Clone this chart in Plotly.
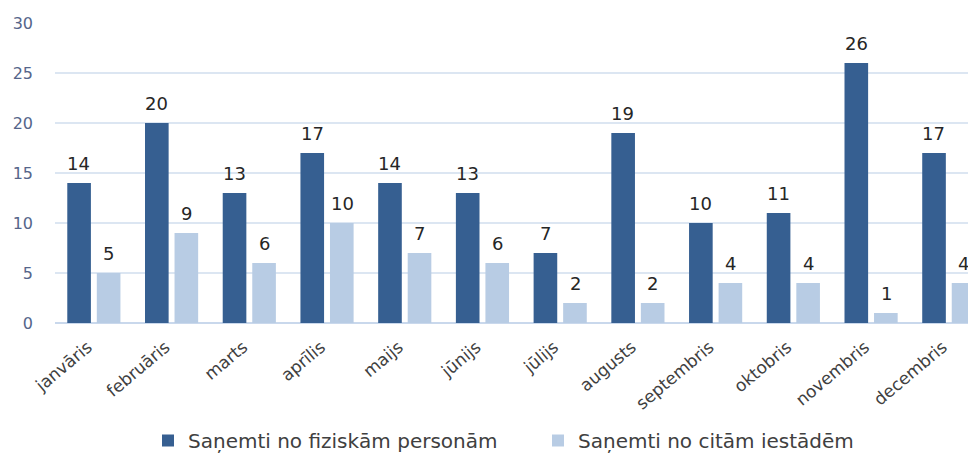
import plotly.graph_objects as go

months = ["janvāris", "februāris", "marts", "aprīlis", "maijs", "jūnijs",
          "jūlijs", "augusts", "septembris", "oktobris", "novembris", "decembris"]
fiziskam = [14, 20, 13, 17, 14, 13, 7, 19, 10, 11, 26, 17]
citam = [5, 9, 6, 10, 7, 6, 2, 2, 4, 4, 1, 4]
series_names = ["Saņemti no fiziskām personām", "Saņemti no citām iestādēm"]
y_ticks = [0, 5, 10, 15, 20, 25, 30]

FONT = "DejaVu Sans"
DARK = "#365F91"
LIGHT = "#B8CCE4"

fig = go.Figure()
series = [(series_names[0], fiziskam, DARK, -15), (series_names[1], citam, LIGHT, 15)]
for name, vals, col, shift in series:
    fig.add_trace(go.Bar(
        x=months, y=vals, name=name,
        marker=dict(color=col, line=dict(width=0)),
        cliponaxis=False,
    ))
    for m, v in zip(months, vals):
        fig.add_annotation(
            x=m, y=v, text=str(v), showarrow=False,
            xshift=shift, yshift=7, yanchor="bottom",
            font=dict(family=FONT, size=18, color="#262626"),
        )

fig.update_layout(
    width=968, height=452,
    margin=dict(l=47, r=0, t=15, b=137, autoexpand=False),
    paper_bgcolor="white", plot_bgcolor="white",
    barmode="group", bargap=0.24, bargroupgap=0.2,
    font=dict(family=FONT, color="#404040"),
    showlegend=True,
    legend=dict(orientation="h", xref="container", yref="container",
                x=140 / 968, xanchor="left", y=0, yanchor="bottom",
                font=dict(family=FONT, size=20, color="#404040"),
                itemwidth=30, entrywidth=345, entrywidthmode="pixels",
                traceorder="normal"),
)
fig.update_xaxes(
    range=[-0.5, 11.35], tickangle=-40,
    tickfont=dict(family=FONT, size=17, color="#404040"),
    showgrid=False, showline=False, zeroline=False, ticks="",
    ticklabelstandoff=10, ticklabelshift=-6,
)
fig.update_yaxes(
    range=[0, 30], tickvals=y_ticks,
    tickfont=dict(family=FONT, size=16, color="#55658A"),
    showgrid=True, gridcolor="#DCE6F2", gridwidth=1.5,
    zeroline=True, zerolinecolor="#C9D8EC", zerolinewidth=2,
    showline=False, ticks="", ticklabelstandoff=21,
)

fig.write_html("out.html")
